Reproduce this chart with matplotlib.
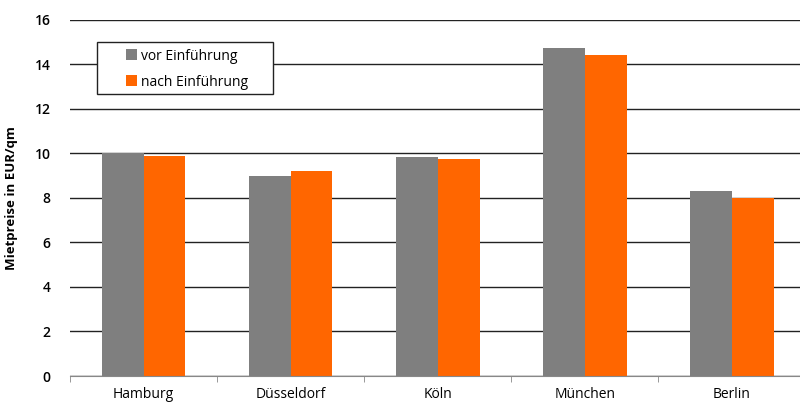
import matplotlib.pyplot as plt
from matplotlib.patches import Rectangle
import numpy as np

cities = ['Hamburg', 'Düsseldorf', 'Köln', 'München', 'Berlin']
vor = [10.0, 9.0, 9.82, 14.74, 8.31]
nach = [9.9, 9.2, 9.75, 14.43, 8.0]
series_labels = ['vor Einführung', 'nach Einführung']
y_ticks = [0, 2, 4, 6, 8, 10, 12, 14, 16]

plt.rcParams['font.family'] = ['Open Sans', 'DejaVu Sans']

W, H = 800, 405
fig = plt.figure(figsize=(W / 100, H / 100), dpi=100)
ax = fig.add_axes([0.0875, 0.0716, 0.919, 0.8792])

x = np.arange(len(cities))
w = 0.285
ax.bar(x - w / 2, vor, width=w, color='#7f7f7f', label=series_labels[0], zorder=2)
ax.bar(x + w / 2, nach, width=w, color='#ff6600', label=series_labels[1], zorder=2)

ax.set_xlim(-0.5, len(cities) - 0.5)
ax.set_ylim(0, 16)
ax.set_yticks(y_ticks)
ax.set_yticklabels([str(v) for v in y_ticks], fontsize=10, fontweight='semibold')
ax.yaxis.grid(True, color='#222222', linewidth=1.0, zorder=0)
ax.set_axisbelow(True)
ax.tick_params(axis='y', length=0, pad=14)

ax.set_xticks(x)
ax.set_xticklabels(cities, fontsize=10)
ax.set_xticks(np.arange(len(cities) + 1) - 0.5, minor=True)
ax.tick_params(axis='x', which='major', length=0, pad=8)
ax.tick_params(axis='x', which='minor', length=4, color='#888888', direction='out')

for s in ['top', 'right', 'left']:
    ax.spines[s].set_visible(False)
ax.spines['bottom'].set_color('#888888')

ax.set_ylabel('Mietpreise in EUR/qm', fontsize=9.5, fontweight='bold', labelpad=12)

# legend box drawn separately so it can be wider than the entries
fig.patches.append(Rectangle((97 / W, 1 - 94 / H), 176 / W, 52 / H,
                             transform=fig.transFigure, facecolor='white',
                             edgecolor='#222222', linewidth=1.0, zorder=3))
leg = fig.legend(loc='upper left', bbox_to_anchor=(126 / W, 1 - 48.5 / H),
                 bbox_transform=fig.transFigure, fontsize=10, frameon=False,
                 handlelength=0.8, handleheight=0.8, handletextpad=0.3,
                 borderpad=0, labelspacing=0.8, borderaxespad=0)
leg.set_zorder(4)

fig.savefig('out.png', dpi=100)
